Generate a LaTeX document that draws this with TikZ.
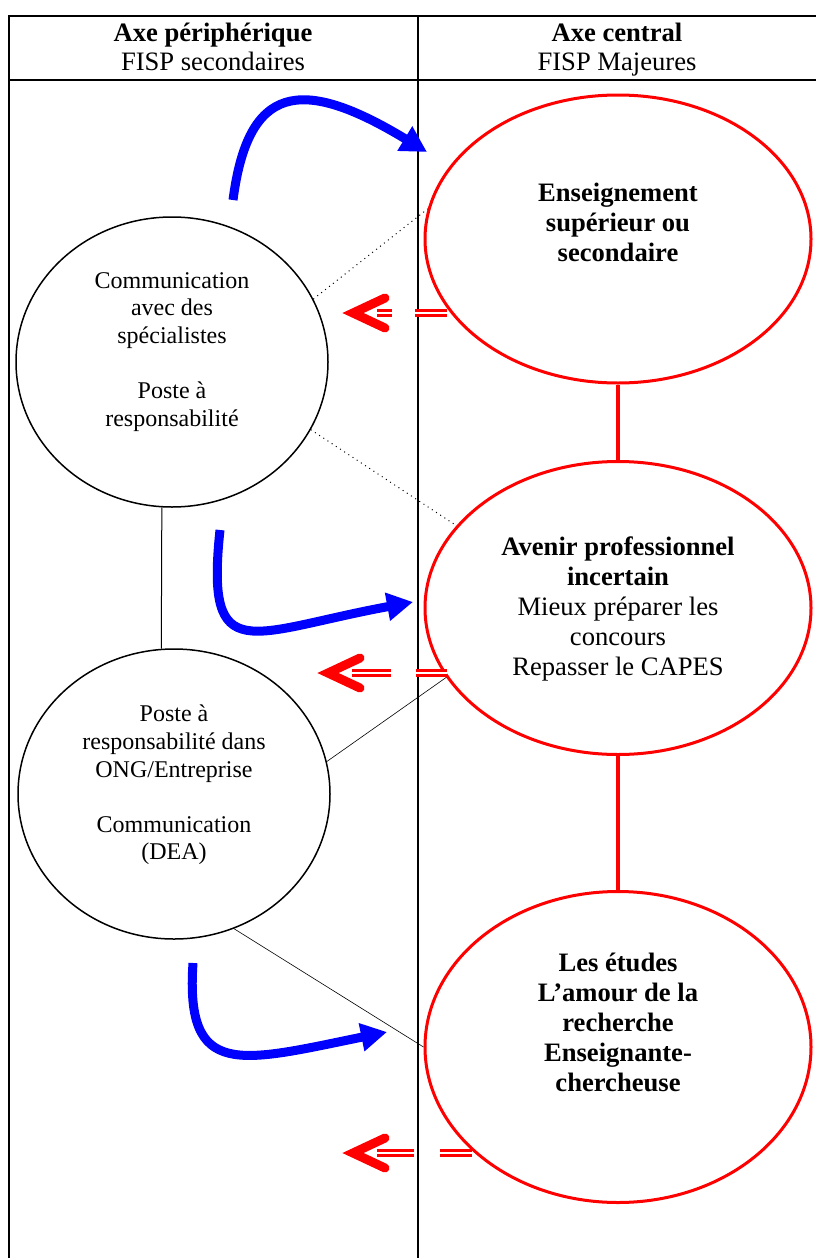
\documentclass[tikz,border=0pt]{standalone}
\usepackage{fontspec}
\setmainfont{Liberation Serif}
\usetikzlibrary{shapes.geometric,arrows.meta}

\begin{document}
\begin{tikzpicture}[x=0.5pt,y=-0.5pt,
        grid/.style={line width=0.8pt},
        side/.style={ellipse, draw, line width=0.75pt, inner sep=0pt, minimum width=156pt, minimum height=145pt},
        core/.style={ellipse, draw=red, line width=1.5pt, inner sep=0pt, minimum width=193pt},
        head/.style={align=center, font=\fontsize{13.3}{14.5}\selectfont},
        txt/.style={align=center, font=\fontsize{12}{13.8}\selectfont},
        btxt/.style={align=center, font=\fontsize{13.3}{15}\selectfont},
        flow/.style={draw=blue, line width=4.5pt, -{Triangle[length=13pt,width=13.5pt]}},
        back/.style={red, line width=1.2pt, double, double distance=1.4pt},
        chev/.style={red, line width=4.5pt, line cap=round, line join=miter}]
        \useasboundingbox (0,0) rectangle (816,1258);
        \draw[grid] (9,1258) -- (9,16) -- (816,16);
        \draw[grid] (9,80) -- (816,80);
        \draw[grid] (418,16) -- (418,1258);
        \node[head] (periph) at (213,47) {\textbf{Axe périphérique}\\FISP secondaires};
        \node[head] (central) at (617,50) {\textbf{Axe central}\\FISP Majeures};
        \node[side] (comm) at (172,362) {};
        \node[side] (ong) at (174,794) {};
        \node[core, minimum height=144pt] (enseign) at (618,239) {};
        \node[core, minimum height=146.5pt] (avenir) at (618,608) {};
        \node[core, minimum height=155.5pt] (etudes) at (618,1047) {};
        \node[txt] (commtxt) at (172,352) {Communication\\avec des\\spécialistes\\[13.8pt]Poste à\\responsabilité};
        \node[txt] (ongtxt) at (174,785) {Poste à\\responsabilité dans\\ONG/Entreprise\\[13.8pt]Communication\\(DEA)};
        \node[btxt] (enstxt) at (618,222) {\textbf{Enseignement}\\\textbf{supérieur ou}\\\textbf{secondaire}};
        \node[btxt] (avtxt) at (618,609) {\textbf{Avenir professionnel}\\\textbf{incertain}\\Mieux préparer les\\concours\\Repasser le CAPES};
        \node[btxt] (ettxt) at (618,1022) {\textbf{Les études}\\\textbf{L’amour de la}\\\textbf{recherche}\\\textbf{Enseignante-}\\\textbf{chercheuse}};
        \draw[red, line width=2.2pt] (enseign.south) -- (avenir.north);
        \draw[red, line width=2.2pt] (avenir.south) -- (etudes.north);
        \draw[line width=0.5pt] (comm.-94) -- (ong.95);
        \draw[dotted, line width=0.5pt] (comm.24) -- (enseign.171);
        \draw[dotted, line width=0.5pt] (comm.-26) -- (avenir.153);
        \draw[line width=0.3pt] (ong.12) -- (avenir.202);
        \draw[line width=0.3pt] (ong.-66) -- (etudes.180);
        \coordinate (up1) at (233,200);
        \coordinate (in1) at (427,152);
        \coordinate (up2) at (220,530);
        \coordinate (in2) at (413,602);
        \coordinate (up3) at (193,963);
        \coordinate (in3) at (387,1032);
        \draw[flow] (up1) .. controls (248,85) and (300,75) .. (in1);
        \draw[flow] (up2) .. controls (205,670) and (250,632) .. (in2);
        \draw[flow] (up3) .. controls (185,1080) and (240,1062) .. (in3);
        \foreach \n/\x/\y/\a/\b/\c in {1/353/313/392/415/447,2/328/673/391/416/447,3/353/1153/414/440/472}{
            \coordinate (tip\n) at (\x,\y);
            \draw[chev] (\x+32,\y-15) -- (tip\n) -- (\x+32,\y+15);
            \draw[back] (\x+24,\y) -- (\a,\y);
            \draw[back] (\b,\y) -- (\c,\y);
        }
    \end{tikzpicture}
\end{document}
